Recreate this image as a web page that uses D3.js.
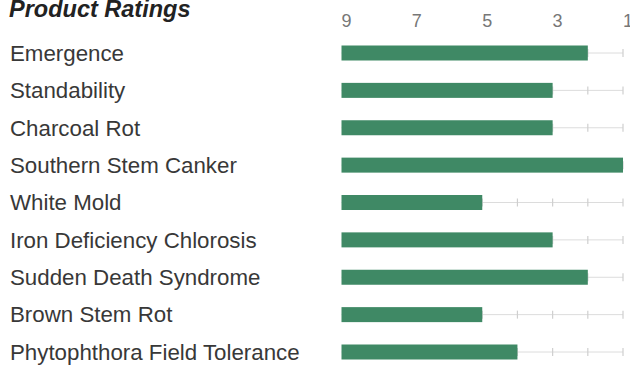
<!DOCTYPE html>
<html>
<head>
<meta charset="utf-8">
<script src="https://cdn.jsdelivr.net/npm/d3@7"></script>
<style>
  html, body { margin: 0; padding: 0; background: #fff; }
  svg { display: block; }
</style>
</head>
<body>
<svg id="chart" width="630" height="367"></svg>
<script>
// Rating categories, top to bottom
const categories = [
  "Emergence",
  "Standability",
  "Charcoal Rot",
  "Southern Stem Canker",
  "White Mold",
  "Iron Deficiency Chlorosis",
  "Sudden Death Syndrome",
  "Brown Stem Rot",
  "Phytophthora Field Tolerance"
];
// Rating for each category (scale 9 = poor ... 1 = best)
const ratings = [2, 3, 3, 1, 5, 3, 2, 5, 4];
// Labelled axis values
const tickLabels = [9, 7, 5, 3, 1];
// Minor track ticks
const trackTicks = [1, 2, 3, 4, 5, 6, 7, 8];

const title = "Product Ratings";

const svg = d3.select("#chart");

const x = d3.scaleLinear().domain([9, 1]).range([341.5, 623]);
const y = d3.scalePoint().domain(categories).range([53, 352]);

const barH = 15;
const barColor = "#3f8965";
const fontFamily = "'Liberation Sans', Arial, Helvetica, sans-serif";

// Title
svg.append("text")
  .attr("x", 9)
  .attr("y", 17)
  .attr("font-family", fontFamily)
  .attr("font-size", 23.5)
  .attr("font-weight", "bold")
  .attr("font-style", "italic")
  .attr("fill", "#222")
  .text(title);

// Axis labels
svg.append("g")
  .selectAll("text")
  .data(tickLabels)
  .join("text")
  .attr("x", d => x(d) + 5)
  .attr("y", 27)
  .attr("text-anchor", "middle")
  .attr("font-family", fontFamily)
  .attr("font-size", 18)
  .attr("fill", "#777")
  .text(d => d);

const rows = svg.append("g")
  .selectAll("g")
  .data(categories.map((c, i) => ({ name: c, value: ratings[i] })))
  .join("g")
  .attr("transform", d => `translate(0,${y(d.name)})`);

// Category labels
rows.append("text")
  .attr("x", 10)
  .attr("y", 0)
  .attr("dy", "0.35em")
  .attr("font-family", fontFamily)
  .attr("font-size", 22.3)
  .attr("fill", "#383838")
  .text(d => d.name);

// Track line
rows.append("line")
  .attr("x1", x(9))
  .attr("x2", x(1))
  .attr("y1", 0)
  .attr("y2", 0)
  .attr("stroke", "#dcdcdc")
  .attr("stroke-width", 1);

// Track ticks
rows.selectAll("line.tick")
  .data(() => trackTicks)
  .join("line")
  .attr("class", "tick")
  .attr("x1", d => x(d))
  .attr("x2", d => x(d))
  .attr("y1", -4)
  .attr("y2", 4)
  .attr("stroke", "#cfcfcf")
  .attr("stroke-width", 1.2);

// Rating bars
rows.append("rect")
  .attr("x", x(9))
  .attr("y", -barH / 2)
  .attr("width", d => x(d.value) - x(9))
  .attr("height", barH)
  .attr("fill", barColor);
</script>
</body>
</html>
